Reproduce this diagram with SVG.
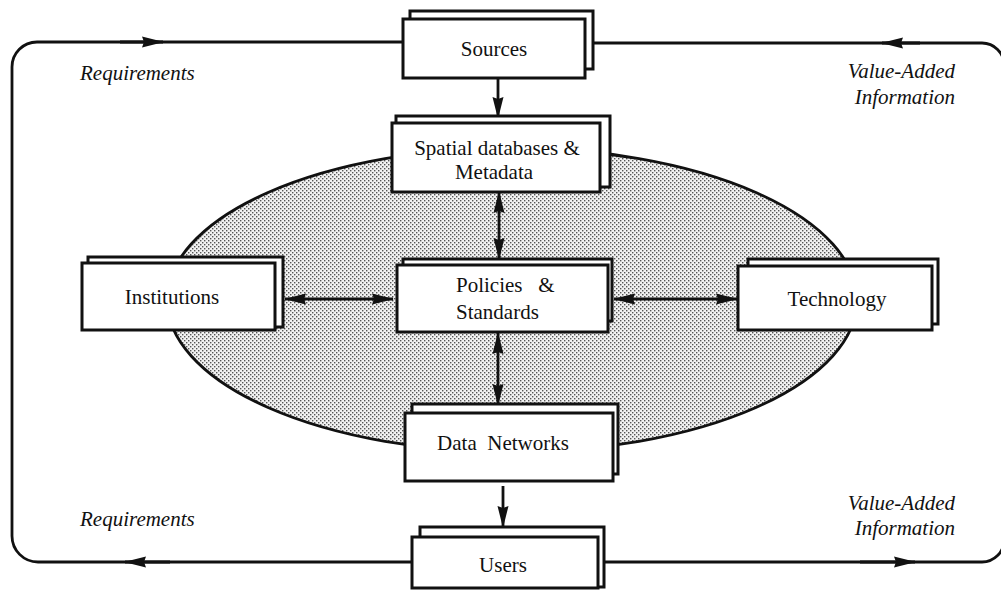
<svg xmlns="http://www.w3.org/2000/svg" width="1001" height="590" viewBox="0 0 1001 590">
<defs>
<style>
.box{fill:#fff;stroke:#111;stroke-width:3}
.lbl{font-family:"Liberation Serif","Times New Roman",serif;font-size:21px;fill:#111}
.it{font-family:"Liberation Serif","Times New Roman",serif;font-size:21px;font-style:italic;fill:#111}
.ln{fill:none;stroke:#111;stroke-width:2.8}
.ar{fill:none;stroke:#111;stroke-width:2.8;marker-end:url(#ah)}
.dar{fill:none;stroke:#111;stroke-width:2.8;marker-start:url(#ah);marker-end:url(#ah)}
</style>
<pattern id="dots" width="4" height="4" patternUnits="userSpaceOnUse">
<rect width="4" height="4" fill="#f2f2f2"/>
<rect x="0" y="0" width="1.4" height="1.4" fill="#555"/>
<rect x="2" y="2" width="1.4" height="1.4" fill="#555"/>
</pattern>
<marker id="ah" viewBox="0 0 22 12" refX="21" refY="6" markerWidth="22" markerHeight="12" markerUnits="userSpaceOnUse" orient="auto-start-reverse">
<path d="M0,0.5 L22,6 L0,11.5 L2,6 z" fill="#111"/>
</marker>
</defs>
<rect width="1001" height="590" fill="#fff"/>
<ellipse id="sdi-area" cx="512" cy="300" rx="345" ry="152" fill="url(#dots)" stroke="#111" stroke-width="2.8"/>
<g id="connectors">
<path class="ln" d="M412,562 L38,562 A26,26 0 0 1 12,536 L12,67 A25,25 0 0 1 37,42 L403,42"/>
<path class="ln" d="M593,43 L982,43 A22,22 0 0 1 1004,65 L1004,540 A22,22 0 0 1 982,562 L604,562"/>
<path class="ar" d="M120,42 L163,42"/>
<path class="ar" d="M920,43 L882,43"/>
<path class="ar" d="M170,562 L125,562"/>
<path class="ar" d="M860,562 L915,562"/>
<path class="ar" d="M498,78 L498,118"/>
<path class="dar" d="M499,192 L499,259"/>
<path class="dar" d="M285,299 L393,299"/>
<path class="dar" d="M614,299 L737,299"/>
<path class="dar" d="M498,333 L498,405"/>
<path class="ar" d="M503,486 L503,527"/>
</g>
<g id="sources">
<rect class="box" x="410" y="11" width="183" height="58"/>
<rect class="box" x="403" y="19" width="182" height="59"/>
<text class="lbl" x="494" y="56" text-anchor="middle">Sources</text>
</g>
<g id="spatial-databases">
<rect class="box" x="396" y="116" width="214" height="71"/>
<rect class="box" x="392" y="123" width="208" height="69"/>
<text class="lbl" x="497" y="155" text-anchor="middle">Spatial databases &amp;</text>
<text class="lbl" x="494" y="179" text-anchor="middle">Metadata</text>
</g>
<g id="institutions">
<rect class="box" x="88" y="257" width="195" height="70"/>
<rect class="box" x="82" y="263" width="193" height="67"/>
<text class="lbl" x="172" y="304" text-anchor="middle">Institutions</text>
</g>
<g id="policies">
<rect class="box" x="403" y="259" width="209" height="62"/>
<rect class="box" x="397" y="265" width="211" height="67"/>
<text class="lbl" x="456" y="292" style="white-space:pre">Policies   &amp;</text>
<text class="lbl" x="456" y="319">Standards</text>
</g>
<g id="technology">
<rect class="box" x="748" y="259" width="190" height="65"/>
<rect class="box" x="738" y="266" width="194" height="64"/>
<text class="lbl" x="837" y="306" text-anchor="middle">Technology</text>
</g>
<g id="data-networks">
<rect class="box" x="412" y="404" width="206" height="70"/>
<rect class="box" x="405" y="413" width="208" height="68"/>
<text class="lbl" x="503" y="450" text-anchor="middle" style="white-space:pre">Data  Networks</text>
</g>
<g id="users">
<rect class="box" x="420" y="527" width="184" height="60"/>
<rect class="box" x="412" y="537" width="186" height="51"/>
<text class="lbl" x="503" y="572" text-anchor="middle">Users</text>
</g>
<g id="flow-labels">
<text class="it" x="80" y="80">Requirements</text>
<text class="it" x="955" y="78" text-anchor="end">Value-Added</text>
<text class="it" x="955" y="104" text-anchor="end">Information</text>
<text class="it" x="80" y="526">Requirements</text>
<text class="it" x="955" y="510" text-anchor="end">Value-Added</text>
<text class="it" x="955" y="535" text-anchor="end">Information</text>
</g>
</svg>
